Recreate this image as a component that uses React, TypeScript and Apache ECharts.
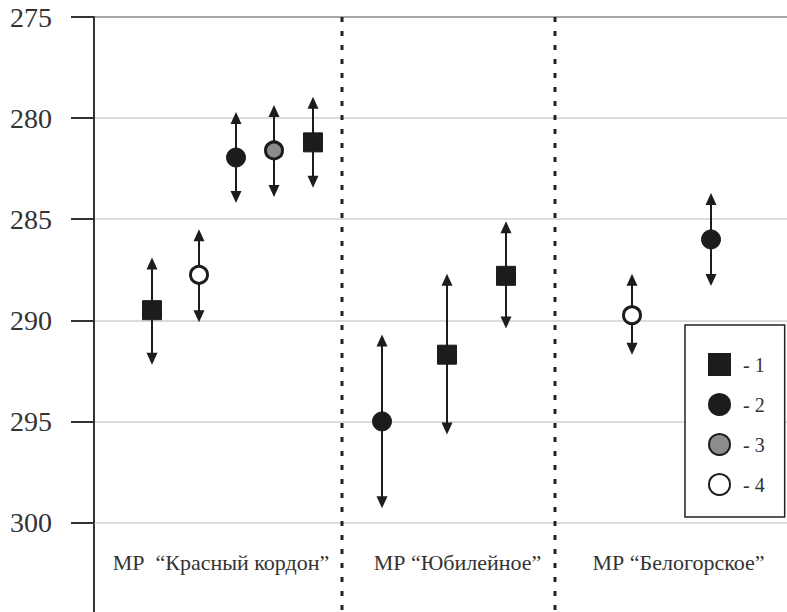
import { useEffect, useRef } from 'react';
import * as echarts from 'echarts';

// Y axis (inverted scale)
const yMin = 275;
const yMax = 300;
const yStep = 5;
const yTicks = [275, 280, 285, 290, 295, 300];

// Group (category) labels and their centre positions along the horizontal axis
const categories = ['МР  “Красный кордон”', 'МР “Юбилейное”', 'МР “Белогорское”'];
const categoryCenters = [127, 363.5, 584.5];
const separators = [248, 461];
const xExtent = 693;

const seriesNames = ['1', '2', '3', '4'];

// Series 1 — black squares
const s1X = [58, 219, 353, 412];
const s1Y = [289.5, 281.2, 291.7, 287.8];
const s1Lo = [286.9, 278.95, 287.7, 285.1];
const s1Hi = [292.2, 283.45, 295.65, 290.4];

// Series 2 — black circles
const s2X = [142, 288, 617];
const s2Y = [281.95, 295.0, 286.0];
const s2Lo = [279.7, 290.7, 283.7];
const s2Hi = [284.2, 299.3, 288.3];

// Series 3 — grey circles
const s3X = [180];
const s3Y = [281.6];
const s3Lo = [279.35];
const s3Hi = [283.9];

// Series 4 — open circles
const s4X = [105, 538];
const s4Y = [287.75, 289.75];
const s4Lo = [285.5, 287.7];
const s4Hi = [290.1, 291.7];

const FONT = 'serif';
const INK = '#1c1c1c';

function pts(xs: number[], ys: number[]) {
  return xs.map((x, i) => [x, ys[i]]);
}
function errs(xs: number[], lo: number[], hi: number[]) {
  return xs.map((x, i) => [x, lo[i], hi[i]]);
}

export default function App() {
  const ref = useRef<HTMLDivElement>(null);

  useEffect(() => {
    if (!ref.current) return;
    const chart = echarts.init(ref.current, undefined, { renderer: 'svg' });

    const errorData = [
      ...errs(s1X, s1Lo, s1Hi),
      ...errs(s2X, s2Lo, s2Hi),
      ...errs(s3X, s3Lo, s3Hi),
      ...errs(s4X, s4Lo, s4Hi),
    ];

    const option: any = {
      animation: false,
      backgroundColor: '#fff',
      grid: { left: 94, right: 0, top: 17, bottom: 89.5 },
      xAxis: {
        type: 'value',
        min: 0,
        max: xExtent,
        axisLine: { show: false },
        axisTick: { show: false },
        splitLine: { show: false },
        axisLabel: {
          customValues: categoryCenters,
          margin: 29,
          fontSize: 22,
          fontFamily: FONT,
          color: '#333',
          formatter: (v: number) => {
            let best = 0;
            categoryCenters.forEach((c, i) => {
              if (Math.abs(c - v) < Math.abs(categoryCenters[best] - v)) best = i;
            });
            return categories[best];
          },
        },
      },
      yAxis: {
        type: 'value',
        inverse: true,
        min: yMin,
        max: yMax,
        interval: yStep,
        axisLine: { show: true, onZero: false, lineStyle: { color: '#333', width: 2 } },
        axisTick: { show: true, length: 23, lineStyle: { color: '#333', width: 2 } },
        axisLabel: { show: false },
        splitLine: {
          show: true,
          lineStyle: { color: ['#8a8a8a', '#cfcfcf', '#cfcfcf', '#cfcfcf', '#cfcfcf', '#cfcfcf'], width: 1.5 },
        },
      },
      legend: {
        data: seriesNames,
        orient: 'vertical',
        left: 685,
        top: 325,
        padding: [28, 20, 21, 23],
        itemWidth: 21,
        itemHeight: 21,
        itemGap: 17,
        borderColor: '#222',
        borderWidth: 1.5,
        backgroundColor: '#fff',
        selectedMode: false,
        formatter: (n: string) => '- ' + n,
        textStyle: { fontSize: 20, fontFamily: FONT, color: '#333', padding: [0, 0, 0, 8] },
      },
      graphic: [
        {
          type: 'line',
          shape: { x1: 94, y1: 520, x2: 94, y2: 612 },
          style: { stroke: '#333', lineWidth: 2 },
          silent: true,
        },
      ],
      series: [
        {
          name: 'yLabels',
          type: 'custom',
          silent: true,
          z: 1,
          data: yTicks.map((v) => [0, v]),
          encode: { x: 0, y: 1 },
          renderItem: (_p: any, api: any) => {
            const v = api.value(1);
            const p = api.coord([0, v]);
            return {
              type: 'text',
              x: p[0] - 42,
              y: p[1],
              style: {
                text: String(v),
                fontSize: 28,
                fontFamily: FONT,
                fill: '#333',
                align: 'right',
                verticalAlign: 'middle',
              },
            };
          },
        },
        {
          name: 'separators',
          type: 'custom',
          silent: true,
          z: 1,
          data: separators.map((x) => [x, yMin]),
          encode: { x: 0, y: 1 },
          renderItem: (_p: any, api: any) => {
            const p = api.coord([api.value(0), yMin]);
            return {
              type: 'line',
              shape: { x1: p[0], y1: p[1], x2: p[0], y2: api.getHeight() },
              style: { stroke: '#222', lineWidth: 3, lineDash: [5, 9] },
            };
          },
        },
        {
          name: 'errors',
          type: 'custom',
          silent: true,
          z: 2,
          data: errorData,
          encode: { x: 0, y: [1, 2] },
          renderItem: (_p: any, api: any) => {
            const x = api.value(0);
            const a = api.coord([x, api.value(1)]);
            const b = api.coord([x, api.value(2)]);
            const top = Math.min(a[1], b[1]);
            const bot = Math.max(a[1], b[1]);
            const cx = a[0];
            const ah = 12;
            const aw = 5.5;
            return {
              type: 'group',
              children: [
                {
                  type: 'line',
                  shape: { x1: cx, y1: top + ah - 1, x2: cx, y2: bot - ah + 1 },
                  style: { stroke: INK, lineWidth: 2 },
                },
                {
                  type: 'polygon',
                  shape: { points: [[cx, top], [cx - aw, top + ah], [cx + aw, top + ah]] },
                  style: { fill: INK },
                },
                {
                  type: 'polygon',
                  shape: { points: [[cx, bot], [cx - aw, bot - ah], [cx + aw, bot - ah]] },
                  style: { fill: INK },
                },
              ],
            };
          },
        },
        {
          name: '1',
          type: 'scatter',
          z: 3,
          symbol: 'rect',
          symbolSize: 19,
          data: pts(s1X, s1Y),
          itemStyle: { color: INK, borderColor: INK, borderWidth: 1, opacity: 1 },
        },
        {
          name: '2',
          type: 'scatter',
          z: 3,
          symbol: 'circle',
          symbolSize: 19,
          data: pts(s2X, s2Y),
          itemStyle: { color: INK, borderColor: INK, borderWidth: 1, opacity: 1 },
        },
        {
          name: '3',
          type: 'scatter',
          z: 3,
          symbol: 'circle',
          symbolSize: 17,
          data: pts(s3X, s3Y),
          itemStyle: { color: '#8c8c8c', borderColor: INK, borderWidth: 3, opacity: 1 },
        },
        {
          name: '4',
          type: 'scatter',
          z: 3,
          symbol: 'circle',
          symbolSize: 17,
          data: pts(s4X, s4Y),
          itemStyle: { color: '#fff', borderColor: INK, borderWidth: 3, opacity: 1 },
        },
      ],
    };

    chart.setOption(option);
    return () => chart.dispose();
  }, []);

  return (
    <div
      ref={ref}
      style={{ position: 'absolute', left: 0, top: 0, width: 787, height: 612, background: '#fff' }}
    />
  );
}
